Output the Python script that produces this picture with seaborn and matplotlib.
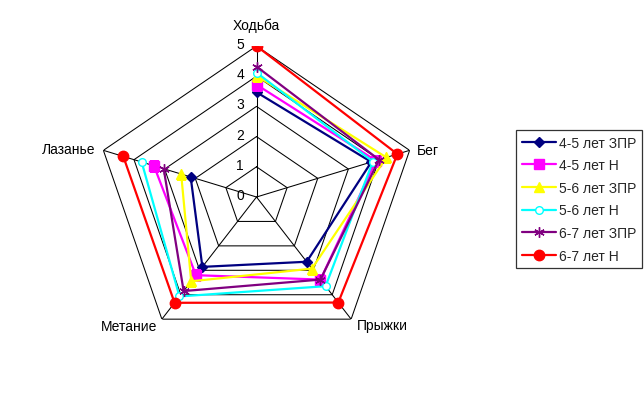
import numpy as np
import pandas as pd
import seaborn as sns
import matplotlib
matplotlib.use('Agg')
import matplotlib.pyplot as plt
from matplotlib.transforms import offset_copy

# данные
axes_names = ['Ходьба', 'Бег', 'Прыжки', 'Метание', 'Лазанье']
groups = ['4-5 лет ЗПР', '4-5 лет Н', '5-6 лет ЗПР', '5-6 лет Н', '6-7 лет ЗПР', '6-7 лет Н']
v_45_zpr = [3.47, 3.75, 2.65, 2.86, 2.15]
v_45_n = [3.72, 3.90, 3.38, 3.20, 3.35]
v_56_zpr = [4.02, 4.24, 2.93, 3.45, 2.46]
v_56_n = [4.12, 3.80, 3.65, 4.07, 3.75]
v_67_zpr = [4.32, 4.00, 3.38, 3.85, 3.03]
v_67_n = [5.00, 4.60, 4.32, 4.33, 4.35]
series = [v_45_zpr, v_45_n, v_56_zpr, v_56_n, v_67_zpr, v_67_n]
r_ticks = [0, 1, 2, 3, 4, 5]

colors = ['#000080', '#FF00FF', '#FFFF00', '#00FFFF', '#800080', '#FF0000']
markers = ['D', 's', '^', 'o', (6, 2, 0), 'o']
msizes = [5.5, 7, 7.5, 5.5, 7.5, 7.5]

sns.set_theme(style='white')
plt.rcParams['font.family'] = ['Liberation Sans', 'DejaVu Sans']

fig = plt.figure(figsize=(6.44, 4.06), dpi=100)
ax = fig.add_axes([0.1483, 0.1404, 0.5, 0.7438], projection='polar')
ax.set_theta_zero_location('N')
ax.set_theta_direction(-1)

theta = np.linspace(0, 2 * np.pi, len(axes_names), endpoint=False)
theta_c = np.append(theta, theta[0])

# сетка: пятиугольники и лучи
for r in r_ticks[1:]:
    ax.plot(theta_c, [r] * len(theta_c), color='black', lw=0.75, zorder=1)
for t in theta:
    ax.plot([t, t], [0, 5], color='black', lw=0.75, zorder=1)

# ряды
for name, vals, c, m, ms in zip(groups, series, colors, markers, msizes):
    d = pd.DataFrame({'theta': theta_c, 'val': vals + vals[:1]})
    sns.lineplot(data=d, x='theta', y='val', ax=ax, sort=False, color=c,
                 marker=m, markersize=ms, linewidth=1.6, label=name,
                 markeredgecolor=c, markeredgewidth=1.0, zorder=3)
ax.lines[-3].set_markerfacecolor('white')  # 5-6 лет Н - пустой кружок

ax.set_ylim(0, 5)
ax.set_xticks([])
ax.set_yticks([])
ax.grid(False)
ax.spines['polar'].set_visible(False)
ax.set_xlabel('')
ax.set_ylabel('')
ax.set_aspect('auto')
ax.patch.set_alpha(0)

# подписи шкалы
tr = offset_copy(ax.transData, fig=fig, x=-9, y=1.5, units='points')
for r in r_ticks:
    ax.text(0, r, str(r), transform=tr, ha='right', va='center', fontsize=10, color='black')

# подписи осей
lab_pos = [(0, 15.5, 'center'), (5, 0.5, 'left'), (4, -4.5, 'left'),
           (-3, -4.8, 'right'), (-5.7, 1.2, 'right')]
for t, name, (dx, dy, ha) in zip(theta, axes_names, lab_pos):
    trl = offset_copy(ax.transData, fig=fig, x=dx, y=dy, units='points')
    ax.text(t, 5, name, transform=trl, ha=ha, va='center', fontsize=10, color='black')

leg = ax.legend(loc='upper left', bbox_to_anchor=(516 / 644, 1 - 131 / 406),
                bbox_transform=fig.transFigure, borderaxespad=0, fontsize=10,
                frameon=True, fancybox=False, handlelength=2.5, handletextpad=0.2,
                labelspacing=0.62, borderpad=0.4)
leg.get_frame().set_edgecolor('black')
leg.get_frame().set_linewidth(0.9)

fig.savefig('out.png', dpi=100)
